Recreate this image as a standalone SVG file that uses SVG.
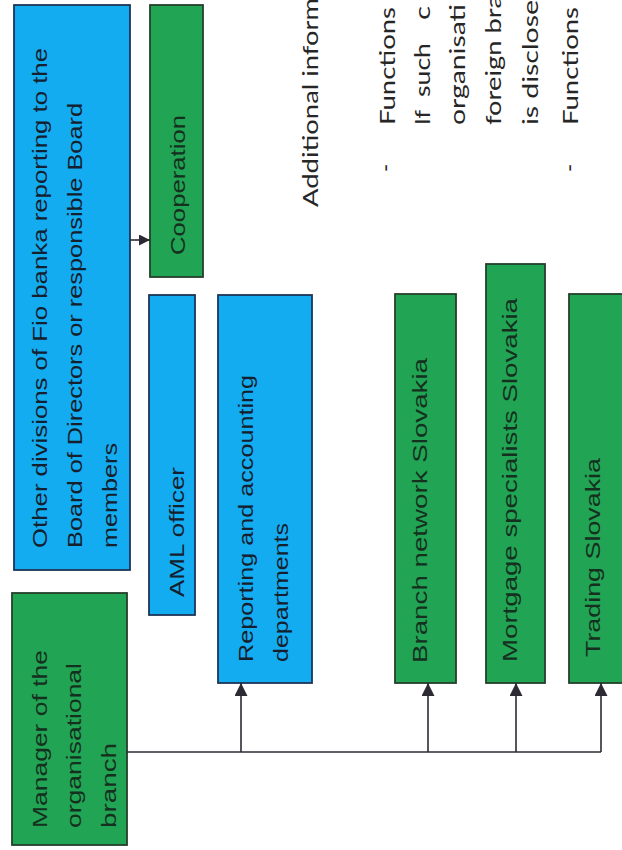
<svg xmlns="http://www.w3.org/2000/svg" width="622" height="850" viewBox="0 0 622 850">
<style>
.blue{fill:#14acf0;stroke:#1d3556;stroke-width:1.8}
.green{fill:#21a453;stroke:#24402c;stroke-width:1.8}
.bt{font-family:"Liberation Sans",Arial,sans-serif;font-size:21px;fill:#14202e}
.gt{font-family:"Liberation Sans",Arial,sans-serif;font-size:21px;fill:#15301f}
.rt{font-family:Lato,"Open Sans",sans-serif;font-size:22px;fill:#262626}
.con{fill:none;stroke:#2e2a33;stroke-width:1.6}
</style>
<defs>
<marker id="ah" viewBox="0 0 10 10" refX="10" refY="5" markerWidth="14" markerHeight="13" markerUnits="userSpaceOnUse" orient="auto">
<path d="M0,0 L10,5 L0,10 z" fill="#2e2a33"/>
</marker>
<marker id="ahs" viewBox="0 0 10 10" refX="10" refY="5" markerWidth="11" markerHeight="11" markerUnits="userSpaceOnUse" orient="auto">
<path d="M0,0 L10,5 L0,10 z" fill="#2e2a33"/>
</marker>
</defs>
<rect width="622" height="850" fill="#ffffff"/>

<g id="other-divisions">
<rect class="blue" x="14" y="5" width="116" height="565"/>
<g transform="rotate(-90)">
<text class="bt" x="-548" y="47" textLength="500" lengthAdjust="spacingAndGlyphs">Other divisions of Fio banka reporting to the</text>
<text class="bt" x="-548" y="82" textLength="445" lengthAdjust="spacingAndGlyphs">Board of Directors or responsible Board</text>
<text class="bt" x="-548" y="117" textLength="105" lengthAdjust="spacingAndGlyphs">members</text>
</g>
</g>

<g id="cooperation">
<rect class="green" x="150" y="5" width="53" height="272"/>
<text class="gt" transform="rotate(-90)" x="-255" y="185" textLength="140" lengthAdjust="spacingAndGlyphs">Cooperation</text>
</g>

<g id="aml-officer">
<rect class="blue" x="149" y="295" width="46" height="320"/>
<text class="bt" transform="rotate(-90)" x="-597" y="184" textLength="130" lengthAdjust="spacingAndGlyphs">AML officer</text>
</g>

<g id="reporting">
<rect class="blue" x="218" y="295" width="94" height="388"/>
<g transform="rotate(-90)">
<text class="bt" x="-662" y="253" textLength="287" lengthAdjust="spacingAndGlyphs">Reporting and accounting</text>
<text class="bt" x="-662" y="288" textLength="139" lengthAdjust="spacingAndGlyphs">departments</text>
</g>
</g>

<g id="manager">
<rect class="green" x="12" y="593" width="115" height="252"/>
<g transform="rotate(-90)">
<text class="gt" x="-828" y="47" textLength="178" lengthAdjust="spacingAndGlyphs">Manager of the</text>
<text class="gt" x="-828" y="81" textLength="165" lengthAdjust="spacingAndGlyphs">organisational</text>
<text class="gt" x="-828" y="116" textLength="85" lengthAdjust="spacingAndGlyphs">branch</text>
</g>
</g>

<g id="branch-network">
<rect class="green" x="395" y="294" width="61" height="389"/>
<text class="gt" transform="rotate(-90)" x="-663" y="427" textLength="305" lengthAdjust="spacingAndGlyphs">Branch network Slovakia</text>
</g>

<g id="mortgage">
<rect class="green" x="486" y="264" width="59" height="419"/>
<text class="gt" transform="rotate(-90)" x="-662" y="517" textLength="364" lengthAdjust="spacingAndGlyphs">Mortgage specialists Slovakia</text>
</g>

<g id="trading">
<rect class="green" x="569" y="294" width="70" height="389"/>
<text class="gt" transform="rotate(-90)" x="-657" y="600" textLength="199" lengthAdjust="spacingAndGlyphs">Trading Slovakia</text>
</g>

<g id="additional-info" transform="rotate(-90)">
<text class="rt" x="-207" y="318" textLength="209" lengthAdjust="spacingAndGlyphs">Additional inform</text>
<text class="rt" x="-172" y="393">-</text>
<text class="rt" x="-125" y="395" textLength="118" lengthAdjust="spacingAndGlyphs">Functions</text>
<text class="rt" x="-125" y="430" textLength="15" lengthAdjust="spacingAndGlyphs">If</text>
<text class="rt" x="-97" y="430" textLength="54" lengthAdjust="spacingAndGlyphs">such</text>
<text class="rt" x="-20" y="430" textLength="14" lengthAdjust="spacingAndGlyphs">c</text>
<text class="rt" x="-125" y="465" textLength="121" lengthAdjust="spacingAndGlyphs">organisati</text>
<text class="rt" x="-125" y="501" textLength="130" lengthAdjust="spacingAndGlyphs">foreign bra</text>
<text class="rt" x="-125" y="538" textLength="125" lengthAdjust="spacingAndGlyphs">is disclose</text>
<text class="rt" x="-172" y="577">-</text>
<text class="rt" x="-125" y="578" textLength="118" lengthAdjust="spacingAndGlyphs">Functions</text>
</g>

<g id="connectors">
<line class="con" x1="130" y1="240" x2="150" y2="240" marker-end="url(#ahs)"/>
<polyline class="con" points="127,752 601,752"/>
<line class="con" x1="241" y1="752" x2="241" y2="683" marker-end="url(#ah)"/>
<line class="con" x1="428" y1="752" x2="428" y2="683" marker-end="url(#ah)"/>
<line class="con" x1="516" y1="752" x2="516" y2="683" marker-end="url(#ah)"/>
<line class="con" x1="601" y1="752" x2="601" y2="683" marker-end="url(#ah)"/>
</g>
</svg>
